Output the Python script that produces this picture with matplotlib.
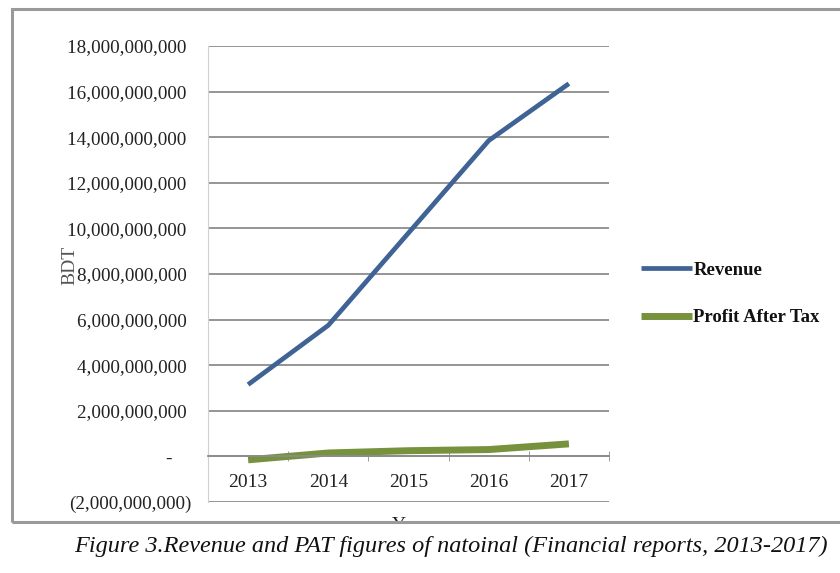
import matplotlib
matplotlib.use('Agg')
import matplotlib.pyplot as plt
from matplotlib.patches import Rectangle
from matplotlib.ticker import FuncFormatter
import numpy as np

years = ['2013', '2014', '2015', '2016', '2017']
revenue = [3.15e9, 5.75e9, 9.8e9, 13.85e9, 16.35e9]
pat = [-0.15e9, 0.15e9, 0.25e9, 0.3e9, 0.55e9]
yticks = np.arange(-2e9, 18.1e9, 2e9)


def acct(v, pos):
    if abs(v) < 1:
        return '-    '
    if v < 0:
        return '({:,.0f})'.format(-v)
    return '{:,.0f} '.format(v)


W, H = 840, 573
fig = plt.figure(figsize=(W / 100, H / 100), dpi=100)
plt.rcParams['font.family'] = ['Liberation Serif', 'DejaVu Serif']

ax = fig.add_axes([208 / W, 1 - 502 / H, 401 / W, 456 / H])
x = np.arange(len(years))

ax.plot(x, revenue, color='#3f6394', lw=3.4, solid_capstyle='butt', label='Revenue')
ax.plot(x, pat, color='#76923c', lw=5, solid_capstyle='butt', label='Profit After Tax')

ax.set_xlim(-0.5, len(years) - 0.5)
ax.set_ylim(-2e9, 18e9)
ax.set_yticks(yticks)
ax.yaxis.set_major_formatter(FuncFormatter(acct))
ax.grid(axis='y', color='#8c8c8c', lw=1.3)
ax.set_axisbelow(True)
ax.tick_params(axis='y', length=0, pad=12, labelsize=13.8, labelcolor='#222222')

for s in ['top', 'right']:
    ax.spines[s].set_visible(False)
ax.spines['left'].set_color('#d0d0d0')
ax.spines['bottom'].set_position(('data', 0))
ax.spines['bottom'].set_color('#8c8c8c')
ax.spines['bottom'].set_linewidth(1.3)

ax.set_xticks(x)
ax.set_xticklabels(years)
ax.set_xticks(np.arange(len(years)) + 0.5, minor=True)
ax.tick_params(axis='x', which='major', length=0, pad=13, labelsize=14, labelcolor='#222222')
ax.tick_params(axis='x', which='minor', length=7, direction='inout', color='#8c8c8c')

fig.text(70 / W, 1 - 265 / H, 'BDT', rotation=90, ha='center', va='center',
         fontsize=14, color='#555555')
fig.text(410 / W, 1 - 526 / H, 'Year', ha='center', va='center', fontsize=14,
         color='#222222')

leg = ax.legend(loc='center left', bbox_to_anchor=(624 / W, 1 - 294 / H),
                bbox_transform=fig.transFigure, frameon=False, handlelength=2.7,
                handletextpad=0.1, labelspacing=1.6,
                prop={'weight': 'bold', 'size': 13.5})
for t in leg.get_texts():
    t.set_color('#111111')

# white band hiding the bottom of "Year" like the cropped source
fig.patches.append(Rectangle((0, 1 - 540 / H), 1, 17 / H, transform=fig.transFigure,
                             facecolor='white', edgecolor='none', zorder=5))
fig.patches.append(Rectangle((12 / W, 1 - 522 / H), 840 / W, 513 / H,
                             transform=fig.transFigure, facecolor='none',
                             edgecolor='#9a9a9a', lw=2.2, zorder=6))

fig.text(451 / W, 1 - 546 / H,
         'Figure 3.Revenue and PAT figures of natoinal (Financial reports, 2013-2017)',
         ha='center', va='center', fontsize=17.5, style='italic', color='#111111',
         zorder=7)

fig.savefig('out.png', dpi=100)
plt.close(fig)
